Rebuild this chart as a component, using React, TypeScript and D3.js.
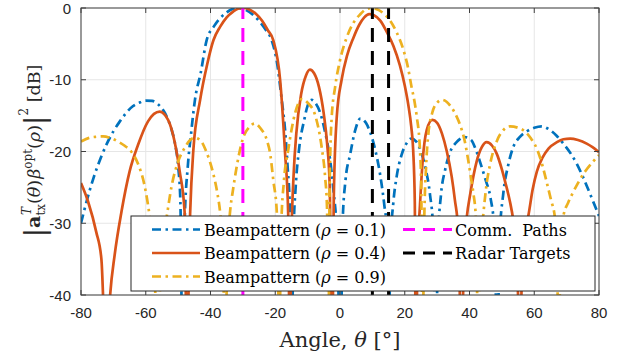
import React from "react";
import * as d3 from "d3";

// ---------- data (angle in degrees, gain in dB) ----------
const xTicks = [-80, -60, -40, -20, 0, 20, 40, 60, 80];
const yTicks = [0, -10, -20, -30, -40];

const commPaths = [-30];
const radarTargets = [10, 15];

const beamRho01: [number, number][] = [
  [-80, -30], [-78, -26.5], [-76, -23.5], [-74, -21], [-72, -18.9], [-70, -17.2], [-68, -15.8],
  [-66, -14.6], [-64, -13.7], [-62, -13.2], [-60, -12.9], [-58, -12.95], [-56, -13.5], [-54, -14.7],
  [-52, -17], [-51, -18.8], [-50, -22], [-49.3, -27], [-48.7, -48],
  [-48, -30], [-47, -22], [-46, -17.5], [-44.8, -12.8], [-43, -9], [-41.2, -4.5], [-39, -2.6],
  [-37, -1.4], [-35, -0.6], [-33, -0.1], [-31.4, 0], [-29, -0.3], [-27, -0.9], [-25, -1.8],
  [-23, -3.0], [-21.1, -4.5], [-19.5, -7.5], [-18, -12.8], [-17, -16.8], [-16.2, -22], [-15.5, -28],
  [-14.9, -48],
  [-14.4, -32], [-13.7, -25], [-12.6, -19.5], [-11, -15.5], [-10, -13.6], [-8.75, -12.8], [-7.5, -13.3],
  [-6.2, -14.5], [-4.5, -17.5], [-3.1, -21], [-2, -25.5], [-1, -31], [0.2, -48],
  [0.8, -30], [1.7, -24], [3.1, -20.5], [4.6, -17.2], [6.3, -15.4], [8, -16], [9.3, -17.3],
  [11, -20], [12.5, -23.5], [13.7, -27.5], [14.4, -30.5], [15, -48],
  [15.6, -33], [16.5, -27], [17.5, -23.5], [19, -20.5], [20.5, -18.9], [22, -18.2], [23.5, -18.6],
  [25, -20], [26.5, -22.5], [27.8, -26], [28.8, -31], [29.6, -48],
  [30.3, -32], [31.2, -26], [32.5, -22.5], [34, -20.1], [36, -18.7], [38.5, -18], [40.5, -18.4],
  [42, -19.8], [43.5, -21.8], [45, -24], [46.5, -26.5], [47.7, -31], [48.6, -48],
  [49.3, -32], [50.4, -26], [52, -21.8], [53.5, -19.4], [55.5, -18], [57.7, -17.2], [60, -16.7],
  [62.3, -16.5], [64.5, -16.9], [66.9, -17.8], [69, -18.9], [71, -20.1], [73, -21.6], [75.2, -23.7],
  [77.5, -26.2], [80, -29],
];

const beamRho04: [number, number][] = [
  [-80, -24.4], [-77.8, -27], [-75.3, -31.2], [-73.7, -35], [-72.2, -50], [-71, -40], [-69.6, -34.4],
  [-67.5, -28.4], [-65, -22.8], [-62.4, -19.1], [-59.3, -15.8], [-55.7, -14.45], [-53.1, -15.6],
  [-51.1, -18.6], [-49.5, -22.8], [-48, -28.4], [-47.3, -48],
  [-46.3, -28.7], [-45.3, -19.8], [-43.2, -12.8], [-41, -7.8], [-39.1, -4.5], [-37, -2.6], [-35, -1.3],
  [-33, -0.5], [-31.5, -0.1], [-29.9, 0], [-28, -0.2], [-26, -0.8], [-24, -1.8], [-22.3, -3.1],
  [-20.6, -4.5], [-18.5, -10], [-17, -20], [-16, -28.7], [-15.5, -48],
  [-15, -32], [-14.3, -23], [-13.5, -17.5], [-12, -12], [-10.5, -9.4], [-9.3, -8.6], [-8, -9.1],
  [-6.5, -11], [-5, -14.8], [-4, -18.8], [-3.2, -24.5], [-2.4, -48],
  [-1.9, -26], [-1.0, -15.2], [0.5, -10], [2.2, -6.6], [4.1, -4.2], [6, -2.3], [7.5, -1.3], [9, -0.85],
  [10.5, -1.0], [12.5, -1.8], [14.4, -3.3], [16.5, -5.3], [18.5, -8], [20, -10.8], [21.1, -13.5],
  [22, -16.5], [22.6, -19.8], [23.1, -27], [23.4, -48],
  [24, -34], [24.7, -27.5], [25.5, -21.5], [26.8, -17], [28.5, -15.6], [30, -16], [31.5, -17.5],
  [33, -20], [34.5, -23.5], [35.5, -26.8], [36.5, -31], [37.6, -48],
  [38.3, -34], [39.2, -29], [40.2, -26], [42.2, -21.4], [43.8, -19.4], [45.3, -18.7], [47, -19.2],
  [48.4, -20.3], [50, -22.5], [51, -24.2], [52.5, -27], [53.5, -29.5], [54.6, -34], [55.6, -48],
  [56.3, -35], [57.2, -31], [58.2, -28.9], [59.5, -25.3], [60.8, -22.8], [62.5, -20.9], [64.4, -19.6],
  [67, -18.7], [69, -18.3], [71.1, -18.2], [73.5, -18.4], [76.2, -18.9], [78, -19.4], [80, -20.1],
];

const beamRho09: [number, number][] = [
  [-80, -18.6], [-77.5, -18.1], [-75.5, -17.95], [-73.2, -17.9], [-71, -18.1], [-68.6, -18.6],
  [-66.5, -19.2], [-64.5, -20], [-62.5, -21.6], [-60.3, -24.9], [-58.8, -29], [-57.5, -34], [-56.3, -48],
  [-55.2, -34], [-53.6, -29.3], [-52, -24.8], [-50, -21.4], [-48, -19.5], [-46.5, -18.5], [-44.9, -18.1],
  [-43, -18.5], [-41.5, -19.8], [-39.2, -23], [-38, -25.5], [-37, -28.6], [-36.2, -33], [-35.5, -48],
  [-34.7, -33], [-34, -28.6], [-33, -25.2], [-31.9, -22.1], [-30, -18.2], [-28, -16.6], [-26.3, -16.1],
  [-24.5, -16.8], [-22.6, -18.4], [-21.5, -20.5], [-20.6, -24], [-19.5, -28.6], [-19.2, -33], [-18.8, -48],
  [-18.2, -31], [-17.3, -24], [-16, -19.8], [-13.9, -14.7], [-11.8, -12.7], [-9.8, -13.3], [-7.7, -14.9],
  [-5.6, -19.6], [-4.6, -23.5], [-4.0, -28], [-3.6, -48],
  [-3.2, -25], [-2.6, -15.5], [-1.5, -11], [0, -7.3], [2, -4.2], [4.1, -2.1], [6.2, -0.9], [8, -0.2],
  [9.9, 0], [12, -0.3], [13.8, -0.9], [15.4, -1.7], [17.5, -3.4], [19.6, -5.85], [21, -8.3], [22.1, -11],
  [23, -13], [23.7, -15.1], [24.7, -19.8], [25.1, -25], [25.5, -48],
  [26, -30], [26.6, -22], [27.3, -17.5], [28.5, -14.6], [30, -13.2], [31.5, -12.8], [33, -13.1],
  [34.5, -13.9], [36, -15.1], [37.1, -16.3], [38.5, -18.5], [39.6, -21.2], [40.5, -23.8], [41.2, -25.8],
  [42, -29.5], [42.7, -48],
  [43.3, -34], [44.3, -28.6], [45.3, -24.5], [46.3, -21.9], [48.4, -18.6], [50.5, -17], [52.5, -16.5],
  [55, -16.7], [57.1, -17.2], [59, -18.2], [60.8, -19.6], [62.5, -21.9], [63.8, -24.2], [65.2, -26.8],
  [66.4, -29.3], [67, -33], [67.5, -48],
  [68.2, -33], [69, -29], [70.5, -27.1], [72.1, -25.6], [74, -24], [75.7, -22.8], [78, -21.5], [80, -20.5],
];

// ---------- styles ----------
const BLUE = "#0072BD";
const ORANGE = "#D95319";
const YELLOW = "#EDB120";
const MAGENTA = "#FF00FF";
const DASHDOT = "9,4.5,2.5,4.5";
const DASHED = "14,9";
const SERIF = "'DejaVu Serif', serif";
const SANS = "'Liberation Sans', Arial, sans-serif";

const W = 624, H = 360;
const L = 81, R = 599, T = 8, B = 295;

export default function App() {
  const x = d3.scaleLinear().domain([-80, 80]).range([L, R]);
  const y = d3.scaleLinear().domain([-40, 0]).range([B, T]);
  const line = d3
    .line<[number, number]>()
    .x((d) => x(d[0]))
    .y((d) => y(d[1]))
    .curve(d3.curveMonotoneX);

  const series = [
    { data: beamRho01, color: BLUE, dash: DASHDOT },
    { data: beamRho04, color: ORANGE, dash: undefined },
    { data: beamRho09, color: YELLOW, dash: DASHDOT },
  ];

  const legendRows1 = [
    { label: "0.1", color: BLUE, dash: DASHDOT },
    { label: "0.4", color: ORANGE, dash: undefined },
    { label: "0.9", color: YELLOW, dash: DASHDOT },
  ];
  const rowY = [229.5, 253, 276.5];

  return (
    <svg width={W} height={H} style={{ position: "absolute", left: 0, top: 0, background: "#fff" }}>
      <defs>
        <clipPath id="plotClip">
          <rect x={L} y={T} width={R - L} height={B - T} />
        </clipPath>
      </defs>
      <rect x={0} y={0} width={W} height={H} fill="#fff" />
      {/* grid */}
      {xTicks.map((t) => (
        <line key={"gx" + t} x1={x(t)} x2={x(t)} y1={T} y2={B} stroke="#e6e6e6" strokeWidth={1} />
      ))}
      {yTicks.map((t) => (
        <line key={"gy" + t} x1={L} x2={R} y1={y(t)} y2={y(t)} stroke="#e6e6e6" strokeWidth={1} />
      ))}
      {/* curves */}
      <g clipPath="url(#plotClip)">
        {series.map((s, i) => (
          <path
            key={i}
            d={line(s.data) || ""}
            fill="none"
            stroke={s.color}
            strokeWidth={2.7}
            strokeDasharray={s.dash}
          />
        ))}
        {commPaths.map((a) => (
          <line key={"c" + a} x1={x(a)} x2={x(a)} y1={y(-40)} y2={y(0)} stroke={MAGENTA} strokeWidth={3} strokeDasharray={DASHED} />
        ))}
        {radarTargets.map((a) => (
          <line key={"r" + a} x1={x(a)} x2={x(a)} y1={y(-40)} y2={y(0)} stroke="#000" strokeWidth={3} strokeDasharray={DASHED} />
        ))}
      </g>
      {/* axes box and ticks */}
      <rect x={L} y={T} width={R - L} height={B - T} fill="none" stroke="#404040" strokeWidth={1} />
      {xTicks.map((t) => (
        <g key={"tx" + t}>
          <line x1={x(t)} x2={x(t)} y1={B} y2={B - 5} stroke="#404040" />
          <line x1={x(t)} x2={x(t)} y1={T} y2={T + 5} stroke="#404040" />
          <text x={x(t)} y={318} textAnchor="middle" fontFamily={SANS} fontSize={15} fill="#262626">
            {t}
          </text>
        </g>
      ))}
      {yTicks.map((t) => (
        <g key={"ty" + t}>
          <line x1={L} x2={L + 5} y1={y(t)} y2={y(t)} stroke="#404040" />
          <line x1={R} x2={R - 5} y1={y(t)} y2={y(t)} stroke="#404040" />
          <text x={71} y={y(t) + 5.5} textAnchor="end" fontFamily={SANS} fontSize={15} fill="#262626">
            {t}
          </text>
        </g>
      ))}
      {/* x label */}
      <text x={340} y={347} textAnchor="middle" fontFamily={SERIF} fontSize={21} fill="#262626">
        Angle, <tspan fontStyle="italic">θ</tspan> [°]
      </text>
      {/* y label */}
      <text transform="translate(40,151) rotate(-90)" textAnchor="middle" fontFamily={SERIF} fontSize={17.5} fill="#262626">
        <tspan fontSize={28} dy={4}>|</tspan>
        <tspan fontWeight="bold" fontSize={19} dy={-4}>a</tspan>
        <tspan fontSize={12} dy={5}>tx</tspan>
        <tspan fontSize={12} fontStyle="italic" dx={-11} dy={-14}>T</tspan>
        <tspan dx={3} dy={9}>(</tspan>
        <tspan fontStyle="italic">θ</tspan>
        <tspan>)</tspan>
        <tspan fontStyle="italic" dx={1}>β</tspan>
        <tspan fontSize={12} dy={-8}>opt</tspan>
        <tspan dy={8}>(</tspan>
        <tspan fontStyle="italic">ρ</tspan>
        <tspan>)</tspan>
        <tspan fontSize={28} dy={4}>|</tspan>
        <tspan fontSize={12} dy={-16}>2</tspan>
        <tspan dy={12}> [dB]</tspan>
      </text>
      {/* legend */}
      <rect x={131} y={216} width={464} height={75} fill="#fff" stroke="#262626" strokeWidth={1} />
      {legendRows1.map((r, i) => (
        <g key={"l" + i}>
          <line x1={152} x2={200} y1={rowY[i]} y2={rowY[i]} stroke={r.color} strokeWidth={2.7} strokeDasharray={r.dash} />
          <text x={204} y={rowY[i] + 6} fontFamily={SERIF} fontSize={16} fill="#000">
            Beampattern (<tspan fontStyle="italic">ρ</tspan> = {r.label})
          </text>
        </g>
      ))}
      <line x1={403} x2={452} y1={rowY[0]} y2={rowY[0]} stroke={MAGENTA} strokeWidth={3} strokeDasharray="12,8" />
      <text x={455} y={rowY[0] + 6} fontFamily={SERIF} fontSize={16} fill="#000">
        Comm.<tspan dx={10}>Paths</tspan>
      </text>
      <line x1={403} x2={452} y1={rowY[1]} y2={rowY[1]} stroke="#000" strokeWidth={3} strokeDasharray="12,8" />
      <text x={455} y={rowY[1] + 6} fontFamily={SERIF} fontSize={16} fill="#000">Radar Targets</text>
    </svg>
  );
}
